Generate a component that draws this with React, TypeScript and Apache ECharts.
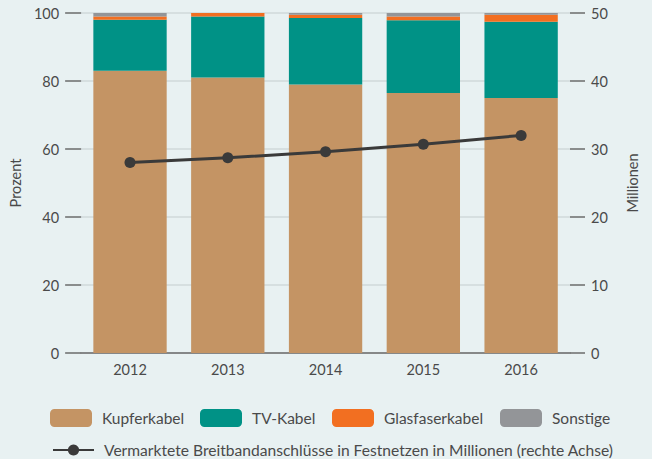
import React, { useEffect, useRef } from "react";
import * as echarts from "echarts";

const years = ["2012", "2013", "2014", "2015", "2016"];
const kupfer = [83, 81, 79, 76.5, 75];
const tvKabel = [15, 18, 19.5, 21.4, 22.4];
const glasfaser = [1, 1, 1, 1.1, 2.1];
const sonstige = [1, 0, 0.5, 1, 0.5];
const anschluesse = [28.0, 28.7, 29.6, 30.7, 32.0];
const leftTicks = [0, 20, 40, 60, 80, 100];
const rightTicks = [0, 10, 20, 30, 40, 50];

const FONT = "Lato, 'Open Sans', sans-serif";
const TXT = "#4a4a4a";

export default function App() {
  const ref = useRef<HTMLDivElement>(null);
  useEffect(() => {
    document.body.style.margin = "0";
    const chart = echarts.init(ref.current!, null, { renderer: "svg" });
    const barNames = ["Kupferkabel", "TV-Kabel", "Glasfaserkabel", "Sonstige"];
    const barData = [kupfer, tvKabel, glasfaser, sonstige];
    const colors = ["#c49464", "#009286", "#f26f21", "#939598"];
    const lineName =
      "Vermarktete Breitbandanschlüsse in Festnetzen in Millionen (rechte Achse)";
    const legendLefts = [50, 200, 332, 500];
    const legendText = {
      fontFamily: FONT,
      fontSize: 15.5,
      color: TXT,
      padding: [0, 0, 0, 5],
    };
    chart.setOption({
      animation: false,
      backgroundColor: "#e8f1f2",
      textStyle: { fontFamily: FONT },
      grid: { left: 79, right: 82, top: 13, bottom: 106 },
      legend: [
        ...barNames.map((n, i) => ({
          data: [n],
          left: legendLefts[i],
          top: 409,
          padding: 0,
          itemWidth: 42,
          itemHeight: 18,
          itemStyle: { borderWidth: 0 },
          textStyle: legendText,
          selectedMode: false,
        })),
        {
          data: [lineName],
          left: 52,
          top: 442,
          padding: 0,
          itemWidth: 41,
          itemHeight: 14,
          textStyle: { ...legendText, fontSize: 15.6 },
          selectedMode: false,
        },
      ],
      xAxis: {
        type: "category",
        data: years,
        axisTick: { show: false },
        axisLine: { show: true, lineStyle: { color: "#6b6b6b", width: 1.5 } },
        axisLabel: { color: TXT, fontSize: 14.5, fontFamily: FONT, margin: 9 },
      },
      yAxis: [
        {
          type: "value",
          min: leftTicks[0],
          max: leftTicks[leftTicks.length - 1],
          interval: 20,
          name: "Prozent",
          nameLocation: "middle",
          nameGap: 54,
          nameTextStyle: { color: TXT, fontSize: 14.5, fontFamily: FONT },
          axisLine: { show: false },
          axisTick: { show: true, length: 16, lineStyle: { color: "#6b6b6b", width: 1.5 } },
          axisLabel: { color: TXT, fontSize: 14.5, fontFamily: FONT, margin: 22 },
          splitLine: { lineStyle: { color: "#d0d8da", width: 1.5 } },
        },
        {
          type: "value",
          min: rightTicks[0],
          max: rightTicks[rightTicks.length - 1],
          interval: 10,
          position: "right",
          name: "Millionen",
          nameLocation: "middle",
          nameGap: 55,
          nameTextStyle: { color: TXT, fontSize: 14.5, fontFamily: FONT },
          axisLine: { show: false },
          axisTick: { show: true, length: 15, lineStyle: { color: "#6b6b6b", width: 1.5 } },
          axisLabel: { color: TXT, fontSize: 14.5, fontFamily: FONT, margin: 21 },
          splitLine: { show: false },
        },
      ],
      series: [
        ...barNames.map((n, i) => ({
          name: n,
          type: "bar",
          stack: "total",
          barWidth: "75%",
          data: barData[i],
          itemStyle: { color: colors[i] },
        })),
        {
          name: lineName,
          type: "line",
          yAxisIndex: 1,
          data: anschluesse,
          symbol: "circle",
          symbolSize: 11,
          lineStyle: { color: "#3a3a3a", width: 3 },
          itemStyle: { color: "#3a3a3a" },
          z: 10,
        },
      ],
    });
    return () => chart.dispose();
  }, []);
  return <div ref={ref} style={{ width: 652, height: 459 }} />;
}
